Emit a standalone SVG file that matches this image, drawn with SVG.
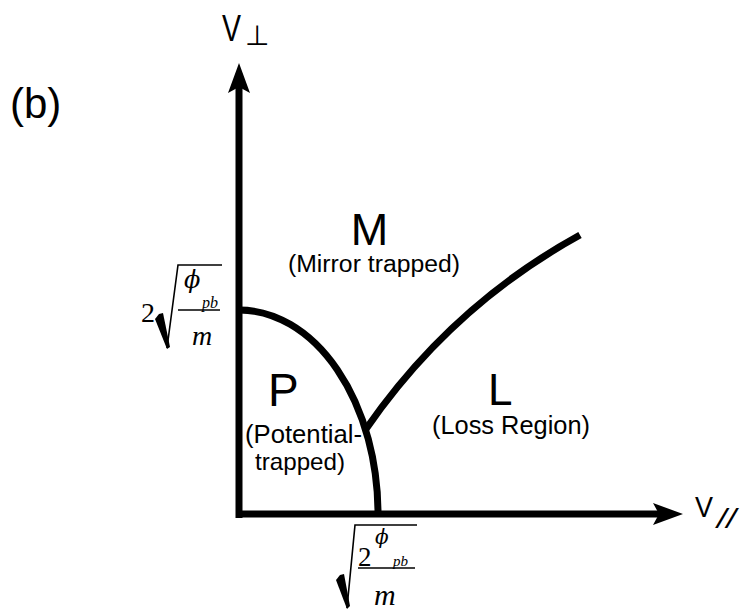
<svg xmlns="http://www.w3.org/2000/svg" width="740" height="611" viewBox="0 0 740 611">
<defs>
<style>
.sans{font-family:"Liberation Sans",Arial,sans-serif;fill:#000}
.serif{font-family:"Liberation Serif","Times New Roman",serif;fill:#000}
.phi{font-family:"DejaVu Serif","Liberation Serif",serif;fill:#000}
.it{font-style:italic}
.axis{stroke:#000;stroke-width:7;fill:none}
.bound{stroke:#000;stroke-width:7;fill:none;stroke-linecap:butt}
.thin{stroke:#000;stroke-width:1.6;fill:none}
</style>
<marker id="arr" markerUnits="userSpaceOnUse" markerWidth="30" markerHeight="22" viewBox="0 0 30 22" refX="6" refY="11" orient="auto">
<path d="M0,0 L30,11 L0,22 L6,11 z" fill="#000"/>
</marker>
</defs>
<rect width="740" height="611" fill="#fff"/>

<g id="connectors">
<line id="v-perp-axis" class="axis" x1="239" y1="518" x2="239" y2="87" marker-end="url(#arr)"/>
<line id="v-par-axis" class="axis" x1="236" y1="514" x2="659" y2="514" marker-end="url(#arr)"/>
<path id="potential-boundary" class="bound" d="M239,310 A139,204 0 0 1 378,514"/>
<path id="loss-boundary" class="bound" d="M366,429 Q451,306 580,235"/>
</g>

<g id="label-b"><text class="sans" x="10" y="118" font-size="42">(b)</text></g>

<g id="axis-label-vperp">
<text class="sans" x="222" y="41" font-size="37" textLength="19" lengthAdjust="spacingAndGlyphs">V</text>
<text x="245" y="45" font-size="28" font-family="'DejaVu Sans',sans-serif">⊥</text>
</g>

<g id="axis-label-vpar">
<text class="sans" x="695" y="517" font-size="30" textLength="18" lengthAdjust="spacingAndGlyphs">V</text>
<text class="sans it" x="717" y="528" font-size="27" textLength="19" lengthAdjust="spacingAndGlyphs">//</text>
</g>

<g id="region-M">
<text class="sans" x="369.5" y="245" font-size="45" text-anchor="middle">M</text>
<text class="sans" x="288" y="272" font-size="23" textLength="172" lengthAdjust="spacingAndGlyphs">(Mirror trapped)</text>
</g>

<g id="region-P">
<text class="sans" x="268" y="406" font-size="46">P</text>
<text class="sans" x="245" y="443" font-size="25" textLength="117" lengthAdjust="spacingAndGlyphs">(Potential-</text>
<text class="sans" x="255" y="470" font-size="24" textLength="90" lengthAdjust="spacingAndGlyphs">trapped)</text>
</g>

<g id="region-L">
<text class="sans" x="488" y="405" font-size="44">L</text>
<text class="sans" x="432" y="434" font-size="25" textLength="158" lengthAdjust="spacingAndGlyphs">(Loss Region)</text>
</g>

<g id="tick-vperp">
<text class="serif" x="141" y="322" font-size="28">2</text>
<polygon points="155,319 159,314 163,313 170,347 167,349" fill="#000"/>
<polyline class="thin" points="167,348 178,265 222,265"/>
<text class="phi it" x="184" y="288" font-size="24">ϕ</text>
<text class="serif it" x="202" y="308" font-size="16">pb</text>
<line class="thin" x1="178" y1="310" x2="220" y2="310"/>
<text class="serif it" x="192" y="345" font-size="28">m</text>
</g>

<g id="tick-vpar">
<polygon points="336,580 340,575 344,574 350,606 347,609" fill="#000"/>
<polyline class="thin" points="347,608 355,525 417,525"/>
<text class="serif" x="358" y="566" font-size="27">2</text>
<text class="phi it" x="375" y="544" font-size="20">ϕ</text>
<text class="serif it" x="393" y="566" font-size="15">pb</text>
<line class="thin" x1="358" y1="568" x2="415" y2="568"/>
<text class="serif it" x="374" y="605" font-size="30">m</text>
</g>
</svg>
